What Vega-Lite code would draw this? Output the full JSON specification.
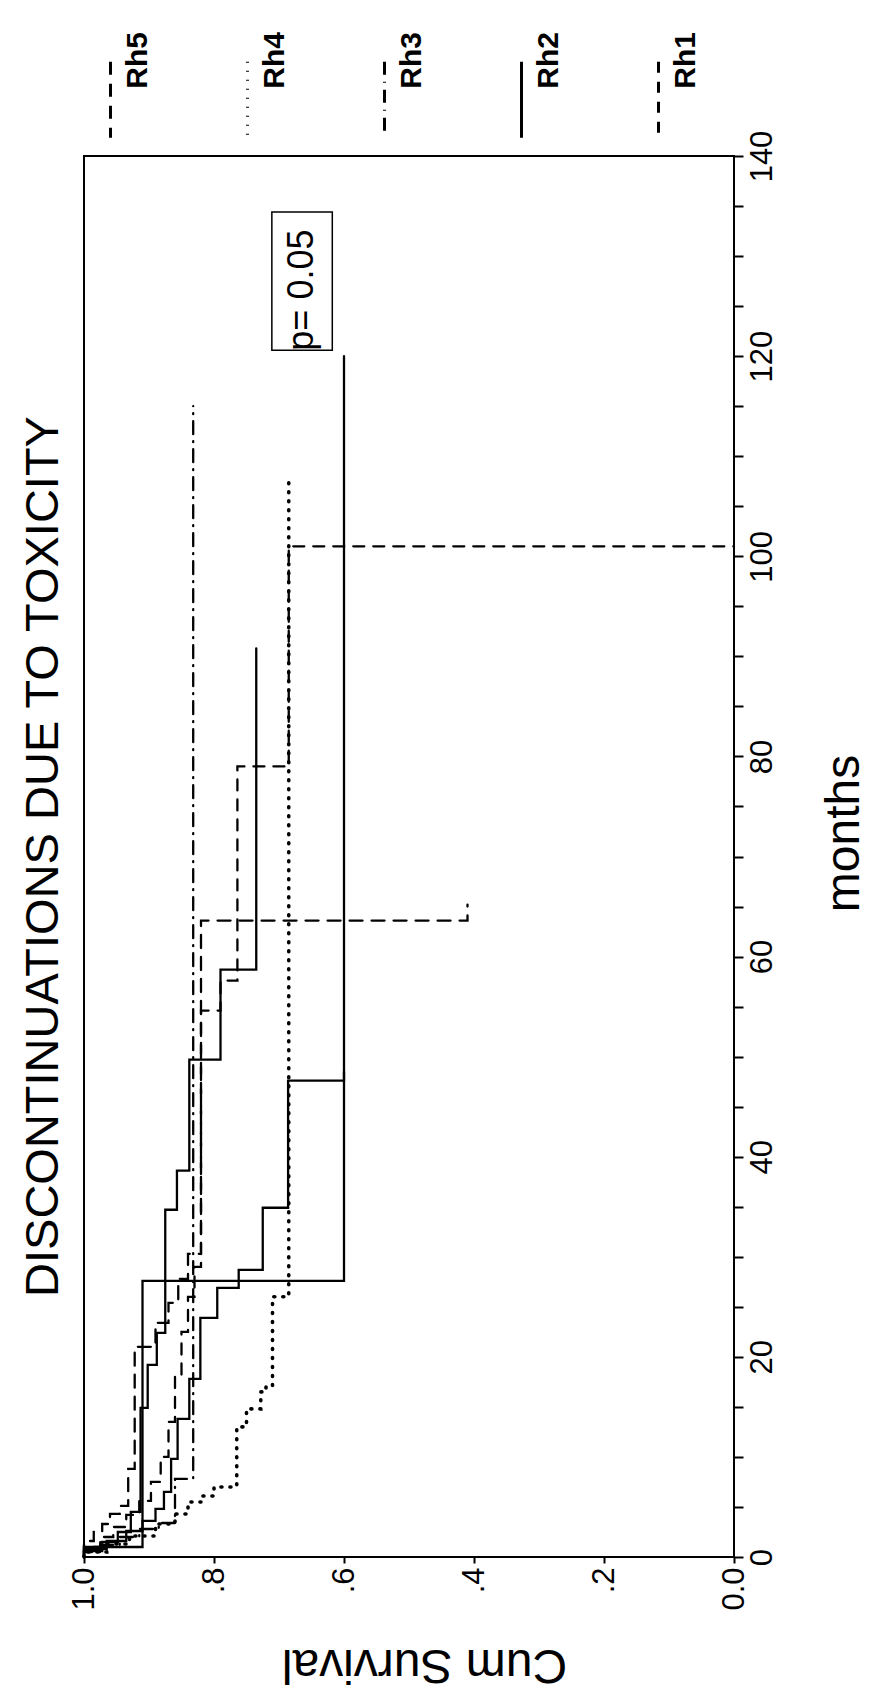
{
  "$schema": "https://vega.github.io/schema/vega-lite/v6.json",
  "width": 650,
  "height": 1401,
  "autosize": {"type": "none"},
  "padding": {"left": 84, "top": 156, "right": 139, "bottom": 149},
  "background": "white",
  "config": {
    "font": "Liberation Sans",
    "view": {"stroke": "black", "strokeWidth": 2},
    "axis": {"labelFont": "Liberation Sans", "titleFont": "Liberation Sans", "labelColor": "black", "titleColor": "black", "tickColor": "black", "domain": false, "grid": false, "titleFontWeight": "normal", "tickWidth": 2}
  },
  "title": {"text": "DISCONTINUATIONS DUE TO TOXICITY", "orient": "left", "anchor": "middle", "offset": 0, "fontSize": 47, "font": "Liberation Sans", "fontWeight": "normal", "color": "black"},
  "datasets": {
    "curves": [
      {"curve": "a", "group": "Rh2", "t": 0, "s": 1},
      {"curve": "a", "group": "Rh2", "t": 1.0, "s": 0.91},
      {"curve": "a", "group": "Rh2", "t": 27.6, "s": 0.60},
      {"curve": "a", "group": "Rh2", "t": 120, "s": 0.60},

      {"curve": "b", "group": "Rh2", "t": 0, "s": 1},
      {"curve": "b", "group": "Rh2", "t": 0.8, "s": 0.965},
      {"curve": "b", "group": "Rh2", "t": 1.6, "s": 0.935},
      {"curve": "b", "group": "Rh2", "t": 2.6, "s": 0.91},
      {"curve": "b", "group": "Rh2", "t": 3.6, "s": 0.89},
      {"curve": "b", "group": "Rh2", "t": 4.8, "s": 0.877},
      {"curve": "b", "group": "Rh2", "t": 6.5, "s": 0.866},
      {"curve": "b", "group": "Rh2", "t": 9.8, "s": 0.856},
      {"curve": "b", "group": "Rh2", "t": 13.8, "s": 0.838},
      {"curve": "b", "group": "Rh2", "t": 17.8, "s": 0.821},
      {"curve": "b", "group": "Rh2", "t": 23.9, "s": 0.795},
      {"curve": "b", "group": "Rh2", "t": 26.9, "s": 0.762},
      {"curve": "b", "group": "Rh2", "t": 28.7, "s": 0.725},
      {"curve": "b", "group": "Rh2", "t": 34.9, "s": 0.686},
      {"curve": "b", "group": "Rh2", "t": 47.6, "s": 0.60},
      {"curve": "b", "group": "Rh2", "t": 48.5, "s": 0.60},

      {"curve": "c", "group": "Rh2", "t": 0, "s": 1},
      {"curve": "c", "group": "Rh2", "t": 0.6, "s": 0.972},
      {"curve": "c", "group": "Rh2", "t": 1.5, "s": 0.948},
      {"curve": "c", "group": "Rh2", "t": 2.5, "s": 0.928},
      {"curve": "c", "group": "Rh2", "t": 4.5, "s": 0.913},
      {"curve": "c", "group": "Rh2", "t": 14.9, "s": 0.902},
      {"curve": "c", "group": "Rh2", "t": 19.2, "s": 0.888},
      {"curve": "c", "group": "Rh2", "t": 22.4, "s": 0.875},
      {"curve": "c", "group": "Rh2", "t": 34.7, "s": 0.857},
      {"curve": "c", "group": "Rh2", "t": 38.6, "s": 0.838},
      {"curve": "c", "group": "Rh2", "t": 49.7, "s": 0.79},
      {"curve": "c", "group": "Rh2", "t": 58.7, "s": 0.735},
      {"curve": "c", "group": "Rh2", "t": 90.8, "s": 0.735},

      {"curve": "d", "group": "Rh5", "t": 0, "s": 1},
      {"curve": "d", "group": "Rh5", "t": 1.6, "s": 0.985},
      {"curve": "d", "group": "Rh5", "t": 2.5, "s": 0.972},
      {"curve": "d", "group": "Rh5", "t": 3.3, "s": 0.96},
      {"curve": "d", "group": "Rh5", "t": 4.3, "s": 0.945},
      {"curve": "d", "group": "Rh5", "t": 5.1, "s": 0.932},
      {"curve": "d", "group": "Rh5", "t": 8.8, "s": 0.922},
      {"curve": "d", "group": "Rh5", "t": 21, "s": 0.89},
      {"curve": "d", "group": "Rh5", "t": 23.4, "s": 0.87},
      {"curve": "d", "group": "Rh5", "t": 25.4, "s": 0.855},
      {"curve": "d", "group": "Rh5", "t": 27.8, "s": 0.84},
      {"curve": "d", "group": "Rh5", "t": 30.3, "s": 0.82},
      {"curve": "d", "group": "Rh5", "t": 63.6, "s": 0.41},
      {"curve": "d", "group": "Rh5", "t": 65.2, "s": 0.41},

      {"curve": "e", "group": "Rh1", "t": 0, "s": 1},
      {"curve": "e", "group": "Rh1", "t": 1.0, "s": 0.975},
      {"curve": "e", "group": "Rh1", "t": 2.0, "s": 0.955},
      {"curve": "e", "group": "Rh1", "t": 3.0, "s": 0.935},
      {"curve": "e", "group": "Rh1", "t": 4.2, "s": 0.915},
      {"curve": "e", "group": "Rh1", "t": 5.6, "s": 0.897},
      {"curve": "e", "group": "Rh1", "t": 7.5, "s": 0.882},
      {"curve": "e", "group": "Rh1", "t": 10, "s": 0.87},
      {"curve": "e", "group": "Rh1", "t": 13.5, "s": 0.86},
      {"curve": "e", "group": "Rh1", "t": 18, "s": 0.85},
      {"curve": "e", "group": "Rh1", "t": 22.5, "s": 0.84},
      {"curve": "e", "group": "Rh1", "t": 26, "s": 0.83},
      {"curve": "e", "group": "Rh1", "t": 29, "s": 0.82},
      {"curve": "e", "group": "Rh1", "t": 54.6, "s": 0.79},
      {"curve": "e", "group": "Rh1", "t": 57.6, "s": 0.764},
      {"curve": "e", "group": "Rh1", "t": 79, "s": 0.685},
      {"curve": "e", "group": "Rh1", "t": 101, "s": 0.0},

      {"curve": "f", "group": "Rh3", "t": 0, "s": 1},
      {"curve": "f", "group": "Rh3", "t": 0.5, "s": 0.975},
      {"curve": "f", "group": "Rh3", "t": 1.2, "s": 0.945},
      {"curve": "f", "group": "Rh3", "t": 2.0, "s": 0.915},
      {"curve": "f", "group": "Rh3", "t": 2.8, "s": 0.885},
      {"curve": "f", "group": "Rh3", "t": 3.4, "s": 0.86},
      {"curve": "f", "group": "Rh3", "t": 7.8, "s": 0.832},
      {"curve": "f", "group": "Rh3", "t": 115, "s": 0.832},

      {"curve": "g", "group": "Rh4", "t": 0, "s": 1},
      {"curve": "g", "group": "Rh4", "t": 0.5, "s": 0.965},
      {"curve": "g", "group": "Rh4", "t": 1.3, "s": 0.93},
      {"curve": "g", "group": "Rh4", "t": 2.1, "s": 0.89},
      {"curve": "g", "group": "Rh4", "t": 3.3, "s": 0.86},
      {"curve": "g", "group": "Rh4", "t": 4.3, "s": 0.84},
      {"curve": "g", "group": "Rh4", "t": 5.5, "s": 0.82},
      {"curve": "g", "group": "Rh4", "t": 6.1, "s": 0.80},
      {"curve": "g", "group": "Rh4", "t": 7.0, "s": 0.765},
      {"curve": "g", "group": "Rh4", "t": 13, "s": 0.75},
      {"curve": "g", "group": "Rh4", "t": 14.5, "s": 0.745},
      {"curve": "g", "group": "Rh4", "t": 14.8, "s": 0.728},
      {"curve": "g", "group": "Rh4", "t": 16.5, "s": 0.72},
      {"curve": "g", "group": "Rh4", "t": 17, "s": 0.71},
      {"curve": "g", "group": "Rh4", "t": 26, "s": 0.685},
      {"curve": "g", "group": "Rh4", "t": 107.6, "s": 0.685}
    ],
    "note": [
      {"s1": 0.711, "s2": 0.618, "t1": 120.6, "t2": 134.4, "sx": 0.648, "ty": 126.6, "label": "p= 0.05"}
    ]
  },
  "layer": [
    {
      "data": {"name": "curves"},
      "transform": [{"filter": "datum.group !== 'Rh4'"}],
      "mark": {"type": "line", "interpolate": "step-before", "strokeCap": "round", "strokeWidth": 2.3, "color": "black"},
      "encoding": {
        "x": {"field": "s", "type": "quantitative", "scale": {"domain": [0, 1], "reverse": true, "nice": false, "zero": false},
          "axis": {"orient": "bottom", "values": [0, 0.2, 0.4, 0.6, 0.8, 1], "labelExpr": "datum.value == 0 ? '0.0' : datum.value >= 1 ? '1.0' : '.' + round(datum.value*10)", "labelAngle": -90, "labelAlign": "right", "labelBaseline": "middle", "labelFontSize": 31, "labelPadding": 4, "tickSize": 6, "labelFlush": false, "labelOverlap": false, "title": "Cum Survival", "titleFontSize": 48, "titleAngle": 180, "titleBaseline": "alphabetic", "titleAlign": "center", "titleX": 340, "titleY": 92}},
        "y": {"field": "t", "type": "quantitative", "scale": {"domain": [0, 140], "nice": false},
          "axis": {"orient": "right", "values": [0,5,10,15,20,25,30,35,40,45,50,55,60,65,70,75,80,85,90,95,100,105,110,115,120,125,130,135,140], "labelExpr": "datum.value % 20 === 0 ? datum.label : ''", "labelAngle": -90, "labelAlign": "center", "labelBaseline": "top", "labelFontSize": 31, "labelPadding": 4, "tickSize": 9, "labelFlush": false, "labelOverlap": false, "title": "months", "titleFontSize": 48, "titleAngle": -90, "titleBaseline": "alphabetic", "titleAlign": "center", "titleX": 124, "titleY": 677}},
        "order": {"field": "t", "type": "quantitative"},
        "detail": {"field": "curve", "type": "nominal"},
        "strokeDash": {"field": "group", "type": "nominal",
          "scale": {"domain": ["Rh5", "Rh4", "Rh3", "Rh2", "Rh1"], "range": [[13, 9], [1, 8], [13, 7, 1, 7], [1, 0], [11, 9]]},
          "legend": {"orient": "none", "legendX": -13, "legendY": -96, "direction": "horizontal", "title": null, "padding": 0, "symbolType": "M0,-1L0,1", "symbolSize": 5776, "symbolStrokeWidth": 3, "symbolStrokeColor": "black", "labelFont": "Liberation Sans", "labelFontSize": 30, "labelFontWeight": "bold", "labelColor": "black", "labelOffset": -27, "columnPadding": 54, "labelAlign": "left", "labelBaseline": "top", "encoding": {"labels": {"angle": {"value": -90}, "dx": {"value": 11}}}}
        }
      }
    },
    {
      "data": {"name": "curves"},
      "transform": [{"filter": "datum.group === 'Rh4'"}],
      "mark": {"type": "line", "interpolate": "step-before", "strokeCap": "round", "strokeWidth": 3.6, "color": "black"},
      "encoding": {
        "x": {"field": "s", "type": "quantitative"},
        "y": {"field": "t", "type": "quantitative"},
        "order": {"field": "t", "type": "quantitative"},
        "detail": {"field": "curve", "type": "nominal"},
        "strokeDash": {"field": "group", "type": "nominal",
          "legend": {"orient": "none", "legendX": -13, "legendY": -96, "direction": "horizontal", "title": null, "padding": 0, "symbolType": "M0,-1L0,1", "symbolSize": 5776, "symbolStrokeWidth": 3, "symbolStrokeColor": "black", "labelFont": "Liberation Sans", "labelFontSize": 30, "labelFontWeight": "bold", "labelColor": "black", "labelOffset": -27, "columnPadding": 54, "labelAlign": "left", "labelBaseline": "top", "encoding": {"labels": {"angle": {"value": -90}, "dx": {"value": 11}}}}
        }
      }
    },
    {
      "data": {"name": "note"},
      "mark": {"type": "rect", "filled": false, "stroke": "black", "strokeWidth": 1.5},
      "encoding": {
        "x": {"field": "s1", "type": "quantitative"},
        "x2": {"field": "s2"},
        "y": {"field": "t1", "type": "quantitative"},
        "y2": {"field": "t2"}
      }
    },
    {
      "data": {"name": "note"},
      "mark": {"type": "text", "angle": 270, "align": "center", "baseline": "alphabetic", "fontSize": 36, "font": "Liberation Sans", "color": "black"},
      "encoding": {
        "x": {"field": "sx", "type": "quantitative"},
        "y": {"field": "ty", "type": "quantitative"},
        "text": {"field": "label"}
      }
    }
  ]
}
